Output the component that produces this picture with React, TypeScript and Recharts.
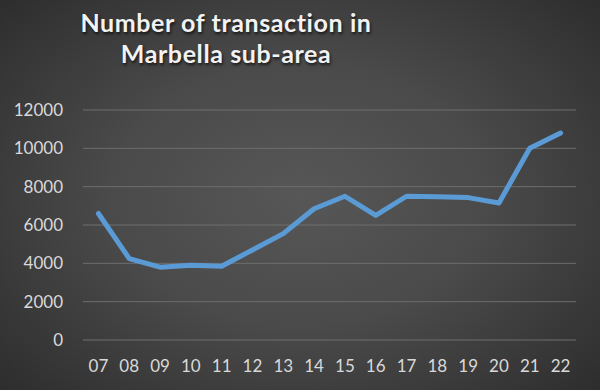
import React from 'react';
import { LineChart, Line, XAxis, YAxis, CartesianGrid } from 'recharts';

const years = ['07', '08', '09', '10', '11', '12', '13', '14', '15', '16', '17', '18', '19', '20', '21', '22'];
const transactions = [6600, 4250, 3800, 3900, 3850, 4700, 5550, 6850, 7500, 6500, 7500, 7470, 7430, 7150, 10000, 10800];
const yTicks = [0, 2000, 4000, 6000, 8000, 10000, 12000];
const titleLines = ['Number of transaction in', 'Marbella sub-area'];

const data = years.map((y, i) => ({ year: y, value: transactions[i] }));

export default function App() {
  return (
    <div
      style={{
        position: 'absolute',
        left: 0,
        top: 0,
        width: 600,
        height: 390,
        overflow: 'hidden',
        background: 'radial-gradient(ellipse 70% 75% at 50% 50%, #575757 0%, #4a4a4a 45%, #2c2c2c 100%)',
      }}
    >
      <div
        style={{
          position: 'absolute',
          left: 0,
          top: 7,
          width: 452,
          textAlign: 'center',
          fontFamily: 'Lato, sans-serif',
          fontWeight: 700,
          fontSize: 25,
          lineHeight: '31px',
          letterSpacing: 0.6,
          color: '#f2f2f2',
          textShadow: '1px 2px 3px rgba(0,0,0,0.7)',
        }}
      >
        {titleLines.map((t) => (
          <div key={t}>{t}</div>
        ))}
      </div>
      <div style={{ position: 'absolute', left: 0, top: 0 }}>
        <LineChart width={600} height={390} data={data} margin={{ top: 110, right: 24, bottom: 20, left: 0 }}>
          <CartesianGrid vertical={false} stroke="#6e6e6e" strokeWidth={1} />
          <XAxis
            dataKey="year"
            scale="band"
            height={30}
            axisLine={false}
            tickLine={false}
            tickSize={0}
            tickMargin={20}
            interval={0}
            tick={{ fill: '#d9d9d9', fontSize: 17, fontFamily: 'Lato, sans-serif' }}
          />
          <YAxis
            width={83}
            domain={[0, 12000]}
            ticks={yTicks}
            axisLine={false}
            tickLine={false}
            tickSize={0}
            tickMargin={20}
            tick={{ fill: '#d9d9d9', fontSize: 17, fontFamily: 'Lato, sans-serif' }}
          />
          <Line
            type="linear"
            dataKey="value"
            stroke="#5b9bd5"
            strokeWidth={5}
            strokeLinecap="round"
            strokeLinejoin="round"
            dot={false}
            activeDot={false}
            isAnimationActive={false}
          />
        </LineChart>
      </div>
    </div>
  );
}
